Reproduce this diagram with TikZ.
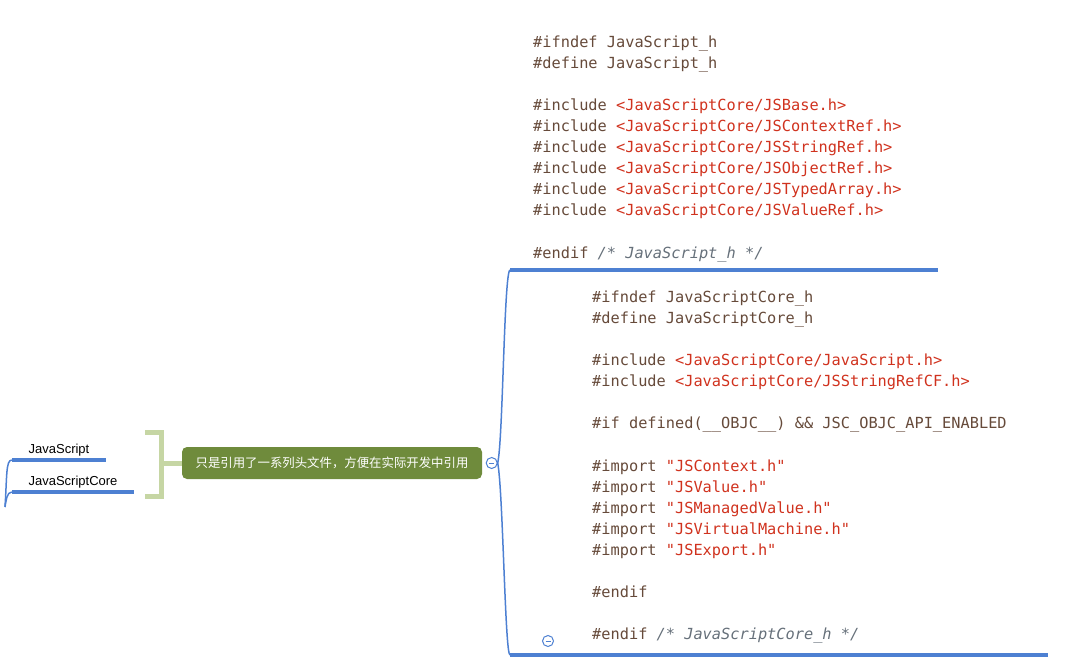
\documentclass[tikz,border=0pt]{standalone}
\usepackage{fontspec}
\newfontfamily\labelfont{Liberation Sans}
\newfontfamily\codefont{DejaVu Sans Mono}
\newfontfamily\cjk{Noto Sans CJK SC}
\usepackage{tikz}
\usetikzlibrary{positioning,calc}
\usepackage{xcolor}
\definecolor{BranchBlue}{HTML}{4D80D2}
\definecolor{NoteGreen}{HTML}{6F8B3C}
\definecolor{BracketGreen}{HTML}{C6D6A4}
\definecolor{CodeBrown}{HTML}{664A3A}
\definecolor{CodeRed}{HTML}{D0321E}
\definecolor{CodeGray}{HTML}{66707A}
\newcommand{\codestr}[1]{\textcolor{CodeRed}{#1}}
\newcommand{\codecmt}[1]{\textcolor{CodeGray}{\itshape #1}}
\tikzset{
  topiclabel/.style={inner sep=0pt,text depth=6pt,anchor=south,align=center,font=\labelfont\fontsize{13}{15}\selectfont},
  notenode/.style={fill=NoteGreen,rounded corners=5pt,minimum width=300pt,minimum height=32pt,inner sep=0pt,text=white,font=\cjk\fontsize{12.4}{14}\selectfont},
  codeblock/.style={anchor=north west,inner sep=0pt,align=left,text=CodeBrown,font=\codefont\fontsize{15.3}{21.1}\selectfont},
  foldmark/.style={circle,draw=BranchBlue,fill=white,line width=1pt,minimum size=11pt,inner sep=0pt},
  foldminus/.style={draw=BranchBlue,line width=1pt},
  underline/.style={draw=BranchBlue,line width=3.5pt},
  branch/.style={draw=BranchBlue,line width=1.5pt},
  bracket/.style={draw=BracketGreen,line width=5pt}
}

\begin{document}
\begin{tikzpicture}[x=1pt,y=-1pt]
\useasboundingbox (0,0) rectangle (1068,660);
% left topics
\coordinate (root) at (5,507);
\node[topiclabel,minimum width=94pt] (js) at (59,460) {JavaScript};
\node[topiclabel,minimum width=122pt] (jsc) at (73,492) {JavaScriptCore};
\draw[underline] (js.south west) -- (js.south east);
\draw[underline] (jsc.south west) -- (jsc.south east);
\draw[branch] (root) .. controls +(2,-30) and +(-6,0) .. (js.south west);
\draw[branch] (root) .. controls +(1,-6) and +(-5,0) .. (jsc.south west);
% summary bracket
\coordinate (brk) at (161,463);
\draw[bracket] (145,432) -- (161,432) -- (161,496) -- (145,496);
\node[notenode] (note) at (332,463) {只是引用了一系列头文件，方便在实际开发中引用};
\draw[bracket] (brk) -- (note.west);
\node[foldmark,right=3.5pt of note] (fold) {};
\draw[foldminus] ([xshift=-2.5]fold.center) -- ([xshift=2.5]fold.center);
% code blocks
\coordinate (ulA-w) at (510,270);
\coordinate (ulA-e) at (938,270);
\coordinate (ulB-w) at (510,655);
\coordinate (ulB-e) at (1048,655);
\draw[branch] (fold.east) .. controls (503,440) and (504,272) .. (ulA-w);
\draw[branch] (fold.east) .. controls (503,490) and (505,655) .. (ulB-w);
\draw[underline] (ulA-w) -- (ulA-e);
\draw[underline] (ulB-w) -- (ulB-e);
\node[codeblock] (codeA) at (533,35) {\rule{0pt}{12pt}\#ifndef JavaScript\_h\\
\#define JavaScript\_h\\[21.1pt]
\#include \codestr{<JavaScriptCore/JSBase.h>}\\
\#include \codestr{<JavaScriptCore/JSContextRef.h>}\\
\#include \codestr{<JavaScriptCore/JSStringRef.h>}\\
\#include \codestr{<JavaScriptCore/JSObjectRef.h>}\\
\#include \codestr{<JavaScriptCore/JSTypedArray.h>}\\
\#include \codestr{<JavaScriptCore/JSValueRef.h>}\\[21.1pt]
\#endif \codecmt{/* JavaScript\_h */}};
\node[codeblock] (codeB) at (592,290) {\rule{0pt}{12pt}\#ifndef JavaScriptCore\_h\\
\#define JavaScriptCore\_h\\[21.1pt]
\#include \codestr{<JavaScriptCore/JavaScript.h>}\\
\#include \codestr{<JavaScriptCore/JSStringRefCF.h>}\\[21.1pt]
\#if defined(\_\_OBJC\_\_) \&\& JSC\_OBJC\_API\_ENABLED\\[21.1pt]
\#import \codestr{"JSContext.h"}\\
\#import \codestr{"JSValue.h"}\\
\#import \codestr{"JSManagedValue.h"}\\
\#import \codestr{"JSVirtualMachine.h"}\\
\#import \codestr{"JSExport.h"}\\[21.1pt]
\#endif\\[21.1pt]
\#endif \codecmt{/* JavaScriptCore\_h */}};
\node[foldmark] (foldB) at (548,641) {};
\draw[foldminus] ([xshift=-2.5]foldB.center) -- ([xshift=2.5]foldB.center);
\end{tikzpicture}
\end{document}
